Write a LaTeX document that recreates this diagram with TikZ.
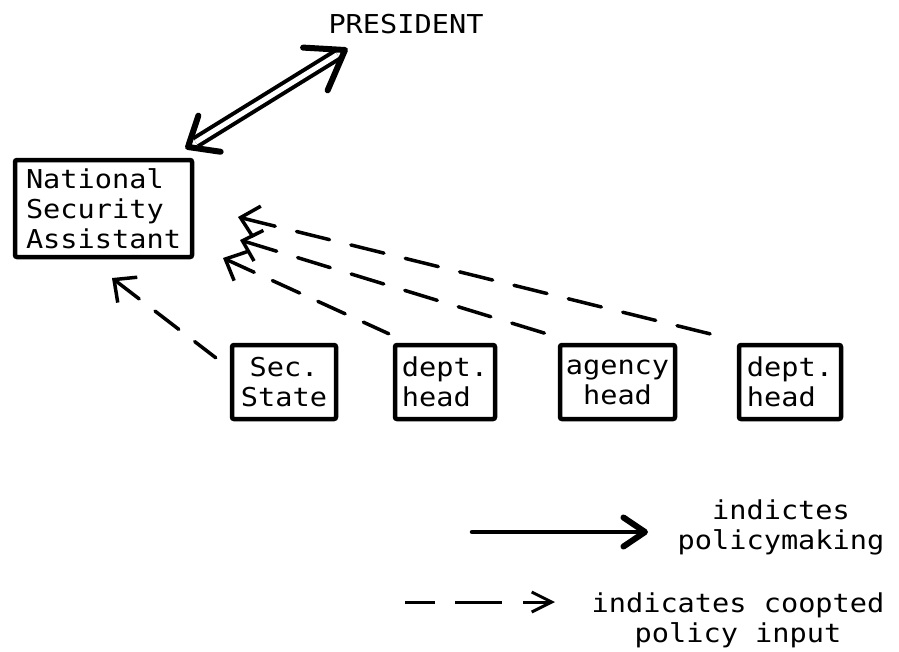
\documentclass[tikz,border=0pt]{standalone}
\usepackage{fontspec}
\newfontfamily\dmfont[FakeStretch=1.1]{DejaVu Sans Mono}
\usetikzlibrary{arrows.meta,calc}
\begin{document}
\begin{tikzpicture}[x=1pt,y=-1pt,
  every node/.style={font={\dmfont\fontsize{26}{30}\selectfont}},
  box/.style={draw, line width=4.5pt, rounded corners=2pt, inner sep=0pt, minimum height=74pt},
  coopt/.style={line width=3.5pt, line cap=round, dash pattern=on 34pt off 22pt, {Straight Barb[length=17pt,width=32pt]}-},
  policy/.style={line width=4.5pt, line cap=round},
  vhead/.style={line width=6pt, line cap=round, line join=round}]
\useasboundingbox (0,0) rectangle (899,651);

% nodes
\node (pres) at (406,24) {PRESIDENT};
\node[box, minimum width=177pt, minimum height=97pt, align=left] (nsa) at (103.5,208.5) {National\\Security\\Assistant};
\node[box, minimum width=104pt, align=center] (ss) at (284,382) {Sec.\\State};
\node[box, minimum width=100pt, align=left] (dh1) at (445,382) {dept.\\head};
\node[box, minimum width=115pt, align=center] (ah) at (617.5,382) {agency\\head};
\node[box, minimum width=102pt, align=left] (dh2) at (790,382) {dept.\\head};

% double arrow president <-> NSA
\coordinate (da1) at (345,50);
\coordinate (da2) at (188,147);
\draw[line width=4pt, double distance=5pt, shorten <=9pt, shorten >=9pt] (da2) -- (da1);
\draw[vhead] ($(da1)!44pt!35:(da2)$) -- (da1) -- ($(da1)!42pt!-35:(da2)$);
\draw[vhead] ($(da2)!33pt!40:(da1)$) -- (da2) -- ($(da2)!33pt!-40:(da1)$);

% coopted inputs
\coordinate (t1) at (238,217);
\coordinate (t2) at (240,240);
\coordinate (t3) at (223,258);
\coordinate (t4) at (112,278);
\draw[coopt] (t1) -- ([shift={(-11,-5)}]dh2.north west);
\draw[coopt] (t2) -- ([shift={(-8,-8)}]ah.north west);
\draw[coopt, dash pattern=on 30pt off 20pt] (t3) -- ([shift={(-4,-9)}]dh1.north west);
\draw[coopt, dash pattern=on 30pt off 20pt] (t4) -- ([shift={(-14,15)}]ss.north west);

% legend
\coordinate (la1) at (472,532);
\coordinate (la2) at (645,532);
\draw[policy] (la1) -- (la2);
\draw[vhead] ($(la2)!26pt!34:(la1)$) -- (la2) -- ($(la2)!26pt!-34:(la1)$);
\node[align=center] (leg1) at (781,527) {indictes\\policymaking};

\coordinate (lb1) at (405,602);
\coordinate (lb2) at (555,602);
\draw[line width=3pt, dash pattern=on 30pt off 20pt on 47pt off 21pt, -{Straight Barb[length=20pt,width=20pt]}] (lb1) -- (lb2);
\node[align=center] (leg2) at (738,620) {indicates coopted\\policy input};
\end{tikzpicture}
\end{document}
